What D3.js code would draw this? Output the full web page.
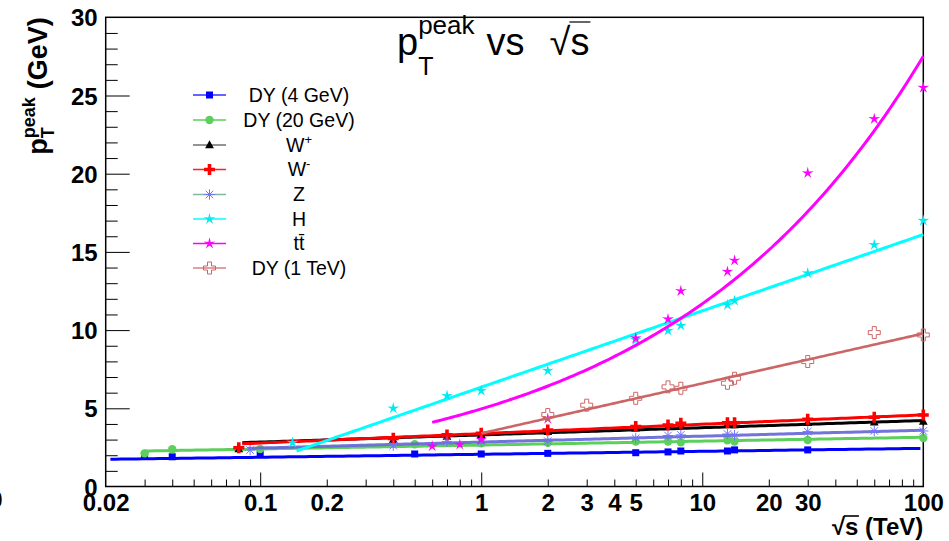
<!DOCTYPE html>
<html>
<head>
<meta charset="utf-8">
<script src="https://cdn.jsdelivr.net/npm/d3@7"></script>
<style>
  html, body { margin: 0; padding: 0; background: #fff; }
  svg { display: block; }
  text { font-family: "Liberation Sans", Arial, Helvetica, sans-serif; fill: #000; }
</style>
</head>
<body>
<svg id="chart" width="949" height="541"></svg>
<script>
// ---- measured peak pT per process vs collision energy (TeV) ----
const dy4X    = [0.03, 0.04, 0.1, 0.5, 1, 2, 5, 7, 8, 13, 14, 30];
const dy4Y    = [2.0, 1.9, 2.08, 2.08, 2.08, 2.12, 2.16, 2.21, 2.27, 2.27, 2.34, 2.34];
const dy20X   = [0.03, 0.04, 0.1, 0.5, 1, 2, 5, 7, 8, 13, 14, 30, 100];
const dy20Y   = [2.12, 2.38, 2.4, 2.7, 2.76, 2.8, 2.87, 2.87, 2.83, 2.96, 2.87, 2.97, 3.1];
const wX      = [0.08, 0.4, 0.7, 1, 2, 5, 7, 8, 13, 14, 30, 60, 100];
const wPlusY  = [2.4, 2.98, 3.2, 3.3, 3.5, 3.72, 3.82, 3.92, 3.97, 3.93, 4.08, 4.1, 4.15];
const wMinusY = [2.48, 3.08, 3.3, 3.4, 3.61, 3.83, 3.93, 4.04, 4.08, 4.08, 4.3, 4.43, 4.57];
const zX      = [0.09, 0.4, 0.7, 1, 2, 5, 7, 8, 13, 14, 30, 60, 100];
const zY      = [2.33, 2.61, 2.87, 2.87, 2.9, 3.08, 3.26, 3.3, 3.36, 3.28, 3.51, 3.55, 3.55];
const hX      = [0.14, 0.4, 0.7, 1, 2, 5, 7, 8, 13, 14, 30, 60, 100];
const hY      = [2.8, 5.0, 5.8, 6.13, 7.41, 9.37, 9.97, 10.29, 11.61, 11.87, 13.64, 15.45, 17.0];
const ttX     = [0.6, 0.8, 1, 2, 5, 7, 8, 13, 14, 30, 60, 100];
const ttY     = [2.57, 2.68, 3.0, 4.33, 9.48, 10.7, 12.5, 13.74, 14.45, 20.04, 23.5, 25.5];
const dy1tX   = [2, 3, 5, 7, 8, 13, 14, 30, 60, 100];
const dy1tY   = [4.6, 5.2, 5.64, 6.37, 6.28, 6.6, 6.92, 7.99, 9.84, 9.69];

// ---- fit parameters, one per series (log: a + b*log10(x), pow: a*x^b) ----
const seriesNames = ["DY (4 GeV)", "DY (20 GeV)", "W+", "W-", "Z", "H", "tt", "DY (1 TeV)"];
const fitForm = ["log", "log", "log", "log", "log", "log", "pow", "log"];
const fitA    = [2.06, 2.65, 3.30, 3.38, 2.84, 6.35, 4.96, 3.40];
const fitB    = [0.19, 0.25, 0.46, 0.60, 0.38, 4.88, 0.372, 3.19];
const fitLo   = [0.021, 0.03, 0.083, 0.083, 0.088, 0.146, 0.6, 1];
const fitHi   = [97, 100, 100, 100, 100, 100, 100, 100];

// ---- axis ticks ----
const xTickValues = [0.02, 0.1, 0.2, 1, 2, 3, 4, 5, 10, 20, 30, 100];
const xTickLabels = ["0.02", "0.1", "0.2", "1", "2", "3", "4", "5", "10", "20", "30", "100"];
const yTickValues = [0, 5, 10, 15, 20, 25, 30];
const yTickLabels = ["0", "5", "10", "15", "20", "25", "30"];

const svg = d3.select("#chart");
const L = 105.7, R = 923.3, T = 17.3, B = 486.5;
const x = d3.scaleLog().domain([0.02, 100]).range([L, R]);
const y = d3.scaleLinear().domain([0, 30]).range([B, T]);

const series = [
  { x: dy4X,  y: dy4Y,    marker: "square",   color: "#0000ff", line: "#0000ff", legLine: "#3030ff" },
  { x: dy20X, y: dy20Y,   marker: "circle",   color: "#5ccf5c", line: "#5ccf5c", legLine: "#5ccf5c" },
  { x: wX,    y: wPlusY,  marker: "triangle", color: "#000000", line: "#000000", legLine: "#707070" },
  { x: wX,    y: wMinusY, marker: "cross",    color: "#ff0000", line: "#ff0000", legLine: "#ff2020" },
  { x: zX,    y: zY,      marker: "asterisk", color: "#7373ff", line: "#6464d8", legLine: "#80b8a0" },
  { x: hX,    y: hY,      marker: "star",     color: "#00e8f0", line: "#00ffff", legLine: "#00ffff" },
  { x: ttX,   y: ttY,     marker: "star",     color: "#ff00ff", line: "#ff00ff", legLine: "#ff00ff" },
  { x: dy1tX, y: dy1tY,   marker: "opencross",color: "#cc6666", line: "#cc6666", legLine: "#d88080" }
];

// ---- marker shapes ----
function plusPath(h, w) { // h: half length, w: half arm width
  return `M${-w},${-h}H${w}V${-w}H${h}V${w}H${w}V${h}H${-w}V${w}H${-h}V${-w}H${-w}Z`;
}
function starPath(ro, ri) {
  let p = "";
  for (let i = 0; i < 10; i++) {
    const r = i % 2 ? ri : ro;
    const a = -Math.PI / 2 + i * Math.PI / 5;
    p += (i ? "L" : "M") + (r * Math.cos(a)).toFixed(2) + "," + (r * Math.sin(a)).toFixed(2);
  }
  return p + "Z";
}
function drawMarker(g, type, color, cx, cy) {
  const m = g.append("g").attr("transform", `translate(${cx},${cy})`);
  switch (type) {
    case "square":
      m.append("rect").attr("x", -3.5).attr("y", -3.5).attr("width", 7).attr("height", 7).attr("fill", color);
      break;
    case "circle":
      m.append("circle").attr("r", 4.2).attr("fill", color);
      break;
    case "triangle":
      m.append("path").attr("d", "M0,-4.8L4.4,3.2L-4.4,3.2Z").attr("fill", color);
      break;
    case "cross":
      m.append("path").attr("d", plusPath(5.5, 1.8)).attr("fill", color);
      break;
    case "opencross":
      m.append("path").attr("d", plusPath(6, 2)).attr("fill", "none").attr("stroke", color).attr("stroke-width", 1);
      break;
    case "asterisk": {
      const r = 5.2, d = r * 0.72;
      m.append("path").attr("d", `M0,${-r}V${r}M${-r},0H${r}M${-d},${-d}L${d},${d}M${-d},${d}L${d},${-d}`)
        .attr("stroke", color).attr("stroke-width", 1).attr("fill", "none");
      break;
    }
    case "star":
      m.append("path").attr("d", starPath(6.2, 2.0)).attr("fill", color);
      break;
  }
}

// ---- axes ----
const minorX = [];
for (let k = -2; k <= 1; k++) for (let mm = 2; mm <= 9; mm++) {
  const v = mm * Math.pow(10, k);
  if (v > 0.02 && v < 100) minorX.push(+v.toPrecision(3));
}
const majorX = [0.1, 1, 10];
const minorY = d3.range(1, 30).filter(v => v % 5 !== 0);
const majorY = [5, 10, 15, 20, 25];

const axes = svg.append("g");
function tickAxis(axis, tr) {
  const g = axes.append("g").attr("transform", tr).call(axis);
  g.select(".domain").remove();
  g.selectAll(".tick line").attr("stroke", "#000").attr("stroke-width", 1);
  return g;
}
tickAxis(d3.axisBottom(x).tickValues(minorX).tickSize(-7).tickFormat(""), `translate(0,${B})`);
tickAxis(d3.axisBottom(x).tickValues(majorX).tickSize(-14).tickFormat(""), `translate(0,${B})`);
tickAxis(d3.axisLeft(y).tickValues(minorY).tickSize(-12).tickFormat(""), `translate(${L},0)`);
tickAxis(d3.axisLeft(y).tickValues(majorY).tickSize(-24).tickFormat(""), `translate(${L},0)`);

const xl = tickAxis(d3.axisBottom(x).tickValues(xTickValues).tickSize(0)
  .tickFormat((d, i) => xTickLabels[i]), `translate(0,${B})`);
xl.selectAll("text").attr("y", 24.5).attr("dy", null)
  .style("font-size", "24px").style("font-weight", "bold").attr("fill", "#000")
  .style("font-family", '"Liberation Sans", Arial, sans-serif');
const yl = tickAxis(d3.axisLeft(y).tickValues(yTickValues).tickSize(0)
  .tickFormat((d, i) => yTickLabels[i]), `translate(${L},0)`);
yl.selectAll("text").attr("x", -8).attr("dy", "0.36em")
  .style("font-size", "24px").style("font-weight", "bold").attr("fill", "#000")
  .style("font-family", '"Liberation Sans", Arial, sans-serif');

// ---- frame ----
svg.append("rect").attr("x", L).attr("y", T).attr("width", R - L).attr("height", B - T)
  .attr("fill", "none").attr("stroke", "#000").attr("stroke-width", 1.5);

// ---- fits and points ----
const plot = svg.append("g");
const line = d3.line().x(d => x(d[0])).y(d => y(d[1]));
series.forEach((s, i) => {
  const lo = Math.log10(fitLo[i]), hi = Math.log10(fitHi[i]);
  const f = fitForm[i] === "pow"
    ? v => fitA[i] * Math.pow(v, fitB[i])
    : v => fitA[i] + fitB[i] * Math.log10(v);
  const pts = d3.range(0, 151).map(k => {
    const v = Math.pow(10, lo + (hi - lo) * k / 150);
    return [v, f(v)];
  });
  plot.append("path").attr("d", line(pts)).attr("fill", "none")
    .attr("stroke", s.line).attr("stroke-width", i === 7 ? 2.6 : 3)
    .attr("stroke-opacity", i === 4 ? 0.9 : 1);
  s.x.forEach((xv, j) => drawMarker(plot, s.marker, s.color, x(xv), y(s.y[j])));
});

// ---- legend ----
const leg = svg.append("g");
const legRowY = [95, 120, 145, 169.5, 194.5, 219, 243.5, 268];
series.forEach((s, i) => {
  const ry = legRowY[i];
  leg.append("line").attr("x1", 193).attr("x2", 226).attr("y1", ry).attr("y2", ry)
    .attr("stroke", s.legLine).attr("stroke-width", 1.6);
  drawMarker(leg, s.marker, s.color, 209.5, ry);
  const t = leg.append("text").attr("x", 299).attr("y", ry + 6.8)
    .attr("text-anchor", "middle").style("font-size", "19.5px");
  if (i === 2 || i === 3) {
    t.append("tspan").text("W");
    t.append("tspan").attr("dy", -8).style("font-size", "13px").text(i === 2 ? "+" : "-");
  } else if (i === 6) {
    t.text("t\u0074\u0304");
  } else {
    t.text(seriesNames[i]);
  }
});

// ---- title ----
const title = svg.append("g");
const tx0 = 397, tBase = 55;
const tp = title.append("text").attr("x", tx0).attr("y", tBase).style("font-size", "38px").text("p");
const wp = tp.node().getComputedTextLength();
const tsup = title.append("text").attr("x", tx0 + wp).attr("y", 34).style("font-size", "26px").text("peak");
const tsub = title.append("text").attr("x", tx0 + wp).attr("y", 75).style("font-size", "25px").text("T");
const wsup = Math.max(tsup.node().getComputedTextLength(), tsub.node().getComputedTextLength());
const vsX = tx0 + wp + wsup + 12;
const tvs = title.append("text").attr("x", vsX).attr("y", tBase).style("font-size", "38px").text("vs");
const rootX = vsX + tvs.node().getComputedTextLength() + 25;
const tr = title.append("text").attr("x", rootX).attr("y", tBase).style("font-size", "38px").text("\u221As");
{
  const n = tr.node();
  const w1 = n.getSubStringLength(0, 1), w2 = n.getSubStringLength(1, 1);
  title.append("line").attr("x1", rootX + w1 - 1).attr("x2", rootX + w1 + w2 + 1)
    .attr("y1", 22).attr("y2", 22).attr("stroke", "#000").attr("stroke-width", 1.2);
}

// ---- x axis title ----
const xt = svg.append("text").attr("x", R).attr("y", 535).attr("text-anchor", "end")
  .style("font-size", "24px").style("font-weight", "bold").text("\u221As (TeV)");
{
  const n = xt.node();
  const total = n.getComputedTextLength();
  const start = R - total;
  const w1 = n.getSubStringLength(0, 1), w2 = n.getSubStringLength(1, 1);
  svg.append("line").attr("x1", start + w1 - 1).attr("x2", start + w1 + w2 + 0.5)
    .attr("y1", 516).attr("y2", 516).attr("stroke", "#000").attr("stroke-width", 1.6);
}

// ---- y axis title (rotated) ----
const yt = svg.append("g").attr("transform", `translate(47,${T}) rotate(-90)`);
const yp = yt.append("text").style("font-size", "27px").style("font-weight", "bold").text("p");
const ysup = yt.append("text").style("font-size", "18px").style("font-weight", "bold").text("peak");
const ysub = yt.append("text").style("font-size", "18px").style("font-weight", "bold").text("T");
const yrest = yt.append("text").style("font-size", "27px").style("font-weight", "bold").text("(GeV)");
{
  const wpp = yp.node().getComputedTextLength();
  const ws = Math.max(ysup.node().getComputedTextLength(), ysub.node().getComputedTextLength());
  const wr = yrest.node().getComputedTextLength();
  const gap = 8;
  const total = wpp + ws + gap + wr;
  const x0 = -total;
  yp.attr("x", x0).attr("y", 0);
  ysup.attr("x", x0 + wpp).attr("y", -12);
  ysub.attr("x", x0 + wpp).attr("y", 7);
  yrest.attr("x", x0 + wpp + ws + gap).attr("y", 0);
}

// ---- label clipped at the left edge ----
svg.append("text").attr("x", 2.5).attr("y", 508).attr("text-anchor", "end")
  .style("font-size", "24px").style("font-weight", "bold").text("0");
</script>
</body>
</html>
